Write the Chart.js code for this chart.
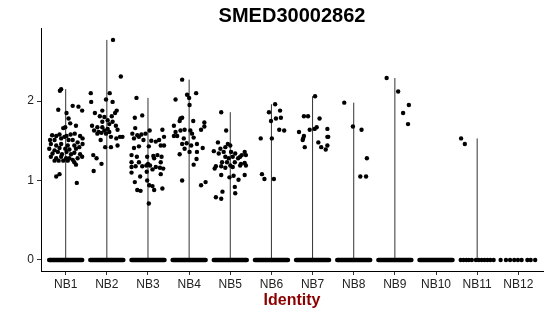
<!DOCTYPE html>
<html><head><meta charset="utf-8">
<script src="https://cdn.jsdelivr.net/npm/chart.js@4.4.0/dist/chart.umd.min.js"></script>
<style>html,body{margin:0;padding:0;background:#fff;}#wrap{width:550px;height:316px;}</style>
</head><body><div id="wrap"><canvas id="c" width="550" height="316"></canvas></div>
<script>
const chartTitle = 'SMED30002862';
const axisTitle = 'Identity';
const categories = ['NB1','NB2','NB3','NB4','NB5','NB6','NB7','NB8','NB9','NB10','NB11','NB12'];
const yTicks = [0, 1, 2];

// non-zero expression values per identity, with their horizontal jitter
const nb1Values = [2.13,2.15,1.89,1.94,1.93,1.88,1.85,1.78,1.72,1.69,1.67,1.66,1.57,1.56,1.58,1.56,1.58,1.59,1.56,1.53,1.51,1.51,1.53,1.55,1.51,1.51,1.48,1.46,1.44,1.46,1.44,1.44,1.42,1.46,1.40,1.38,1.41,1.40,1.39,1.40,1.34,1.36,1.33,1.36,1.33,1.35,1.33,1.30,1.28,1.30,1.28,1.28,1.26,1.28,1.30,1.25,1.25,1.25,1.25,1.23,1.20,1.05,1.08,0.97];
const nb1Jitter = [-0.14,-0.11,-0.18,0.17,0.31,0.40,0.02,0.07,0.11,0.25,-0.01,-0.06,-0.33,-0.23,-0.15,0.02,0.12,0.22,0.35,0.41,-0.38,-0.27,-0.11,-0.03,0.07,0.17,0.29,-0.36,-0.23,-0.11,0.05,0.21,0.33,0.41,-0.40,-0.27,-0.15,-0.01,0.09,0.25,-0.32,-0.19,-0.09,0.02,0.13,0.21,0.35,-0.36,-0.23,-0.11,0.01,0.09,0.17,0.29,0.40,-0.27,-0.17,-0.06,0.05,0.21,0.25,-0.23,-0.15,0.27];
const nb2Values = [2.77,2.31,2.10,2.10,1.99,2.02,1.99,1.88,1.85,1.88,1.85,1.81,1.80,1.81,1.76,1.74,1.74,1.69,1.67,1.67,1.71,1.69,1.63,1.61,1.63,1.65,1.64,1.59,1.60,1.59,1.61,1.55,1.55,1.55,1.51,1.53,1.42,1.42,1.44,1.32,1.28,1.21,1.12];
const nb2Jitter = [0.15,0.34,-0.39,0.07,-0.38,-0.02,0.14,0.24,0.20,-0.11,-0.29,-0.17,-0.06,0.12,0.02,-0.11,0.14,-0.36,-0.23,-0.11,0.06,0.22,-0.31,-0.20,-0.06,0.02,0.26,-0.23,-0.13,-0.02,0.06,0.38,0.32,0.10,-0.15,0.23,-0.04,0.10,0.26,-0.33,-0.25,-0.13,-0.32];
const nb3Values = [2.04,1.82,1.79,1.66,1.59,1.57,1.58,1.59,1.63,1.64,1.53,1.55,1.51,1.50,1.49,1.51,1.55,1.41,1.43,1.43,1.44,1.44,1.32,1.30,1.30,1.31,1.32,1.30,1.23,1.23,1.21,1.28,1.23,1.17,1.18,1.18,1.19,1.19,1.17,1.16,1.15,1.10,1.05,1.11,1.14,1.08,0.98,1.00,0.94,0.93,0.88,0.87,0.88,0.90,0.71];
const nb3Jitter = [-0.28,-0.14,-0.32,-0.31,-0.38,-0.26,-0.16,-0.06,0.04,0.35,-0.34,-0.22,-0.11,0.08,0.19,0.27,0.39,-0.34,-0.22,0.02,0.31,0.39,-0.40,-0.27,-0.02,0.13,0.23,0.33,-0.40,-0.22,0.00,0.15,0.31,-0.40,-0.30,-0.14,-0.04,0.05,0.19,0.29,0.37,-0.40,-0.19,-0.03,0.11,0.31,-0.32,-0.02,0.03,0.11,-0.26,-0.18,0.15,0.35,0.02];
const nb4Values = [2.27,2.08,2.04,2.10,2.02,1.95,1.78,1.75,1.79,1.75,1.73,1.69,1.64,1.63,1.68,1.64,1.61,1.63,1.59,1.56,1.56,1.53,1.54,1.46,1.47,1.44,1.46,1.40,1.41,1.33,1.36,1.36,1.27,1.20,1.00,0.94,0.98];
const nb4Jitter = [-0.17,-0.05,0.00,0.17,-0.33,0.01,-0.21,-0.23,-0.17,0.10,0.37,-0.37,-0.11,0.03,0.37,0.29,-0.33,-0.21,0.07,-0.37,-0.29,-0.13,0.11,-0.17,-0.06,0.05,0.19,-0.11,0.33,-0.23,0.01,0.19,0.18,0.11,-0.17,0.29,0.40];
const nb5Values = [1.86,1.63,1.48,1.46,1.44,1.37,1.40,1.36,1.42,1.34,1.36,1.34,1.36,1.32,1.32,1.30,1.28,1.30,1.28,1.30,1.23,1.23,1.23,1.21,1.22,1.15,1.18,1.18,1.16,1.19,1.17,1.19,1.19,1.07,1.04,1.06,1.01,1.07,0.92,0.84,0.86,0.79,0.77];
const nb5Jitter = [-0.22,-0.10,-0.30,-0.06,0.00,-0.40,-0.24,-0.16,-0.12,-0.28,0.02,0.12,0.35,0.28,0.38,-0.12,-0.04,0.06,0.19,0.24,-0.20,-0.08,0.11,0.26,0.35,-0.38,-0.35,-0.22,-0.12,0.00,0.06,0.24,0.38,-0.22,-0.02,0.08,0.20,0.35,0.11,0.12,-0.19,-0.35,-0.22];
const nb6Values = [1.96,1.86,1.88,1.75,1.78,1.79,1.64,1.63,1.53,1.53,1.08,1.02,1.02];
const nb6Jitter = [0.09,-0.06,0.21,-0.01,0.11,0.23,0.19,0.31,-0.26,0.01,-0.23,-0.17,0.06];
const nb7Values = [2.06,1.81,1.81,1.78,1.61,1.64,1.65,1.67,1.65,1.56,1.53,1.51,1.55,1.55,1.48,1.42,1.42,1.44,1.39];
const nb7Jitter = [0.06,-0.21,-0.11,0.17,-0.33,-0.07,0.05,0.10,0.36,-0.21,-0.23,-0.24,0.36,0.38,0.14,-0.19,0.21,0.36,0.32];
const nb8Values = [1.98,1.68,1.64,1.28,1.05,1.05];
const nb8Jitter = [-0.23,-0.02,0.19,0.32,0.16,0.30];
const nb9Values = [2.29,2.12,1.95,1.85,1.71];
const nb9Jitter = [-0.20,0.08,0.34,0.20,0.32];
const nb10Values = [];
const nb10Jitter = [];
const nb11Values = [1.53,1.46];
const nb11Jitter = [-0.39,-0.30];
const nb12Values = [];
const nb12Jitter = [];

// cells with zero expression: dense groups drawn as a band, sparse groups as individual jittered dots
const denseZeroGroups = ['NB1','NB2','NB3','NB4','NB5','NB6','NB7','NB8','NB9','NB10'];
const nb11ZeroJitter = [-0.40,-0.33,-0.26,-0.20,-0.13,-0.03,0.04,0.11,0.18,0.25,0.32,0.40];
const nb12ZeroJitter = [-0.43,-0.30,-0.20,-0.10,-0.01,0.08,0.22,0.30,0.41];

const groupValues = [nb1Values,nb2Values,nb3Values,nb4Values,nb5Values,nb6Values,nb7Values,nb8Values,nb9Values,nb10Values,nb11Values,nb12Values];
const groupJitter = [nb1Jitter,nb2Jitter,nb3Jitter,nb4Jitter,nb5Jitter,nb6Jitter,nb7Jitter,nb8Jitter,nb9Jitter,nb10Jitter,nb11Jitter,nb12Jitter];
const sparseZero = {NB11: nb11ZeroJitter, NB12: nb12ZeroJitter};

const datasets = [];
const pts = [];
groupValues.forEach((vals, gi) => {
  vals.forEach((v, k) => pts.push({x: gi + 1 + groupJitter[gi][k], y: v}));
});
const zeroPts = [];
Object.keys(sparseZero).forEach(name => {
  const gi = categories.indexOf(name);
  sparseZero[name].forEach(j => zeroPts.push({x: gi + 1 + j, y: 0}));
});
datasets.push({type:'scatter', data: pts, backgroundColor:'#000', borderWidth:0, pointRadius:2.2, pointHoverRadius:2.2});
datasets.push({type:'scatter', data: zeroPts, backgroundColor:'#000', borderWidth:0, pointRadius:2.2, pointHoverRadius:2.2});
denseZeroGroups.forEach(name => {
  const gi = categories.indexOf(name);
  datasets.push({type:'scatter', showLine:true, data:[{x:gi+1-0.4,y:0},{x:gi+1+0.4,y:0}], borderColor:'#000', borderWidth:4.6, borderCapStyle:'round', pointRadius:0});
});
groupValues.forEach((vals, gi) => {
  if (!vals.length) return;
  datasets.push({type:'scatter', showLine:true, data:[{x:gi+1,y:0},{x:gi+1,y:Math.max(...vals)}], borderColor:'#333', borderWidth:1, pointRadius:0});
});

const titlePlugin = {
  id:'ggTitle',
  afterDraw(chart){
    const {ctx, chartArea} = chart;
    ctx.save();
    ctx.font = 'bold 20px "Liberation Sans", Arial, sans-serif';
    ctx.fillStyle = '#000';
    ctx.textAlign = 'center';
    ctx.textBaseline = 'middle';
    ctx.fillText(chartTitle, (chartArea.left + chartArea.right) / 2, 16);
    ctx.restore();
  }
};

new Chart(document.getElementById('c'), {
  type:'scatter',
  data:{datasets},
  plugins:[titlePlugin],
  options:{
    responsive:false, animation:false, events:[],
    layout:{padding:{top:28, right:7, left:0, bottom:0}},
    plugins:{legend:{display:false}, tooltip:{enabled:false}},
    scales:{
      x:{
        type:'linear', min:0.4, max:12.6,
        afterBuildTicks(s){ s.ticks = categories.map((c,i)=>({value:i+1})); },
        afterFit(s){ s.height = 45; },
        ticks:{callback:(v)=>categories[v-1], color:'#222', font:{family:'"Liberation Sans", Arial, sans-serif', size:12}, padding:2, maxRotation:0, autoSkip:false},
        grid:{display:true, drawOnChartArea:false, drawTicks:true, tickLength:4, color:'#333'},
        border:{display:true, color:'#000', width:1},
        title:{display:true, text:axisTitle, color:'#8b0000', font:{family:'"Liberation Sans", Arial, sans-serif', size:16, weight:'bold'}, padding:{top:0, bottom:6}}
      },
      y:{
        type:'linear', min:-0.139, max:2.92,
        afterBuildTicks(s){ s.ticks = yTicks.map(v=>({value:v})); },
        afterFit(s){ s.width = 41; },
        ticks:{color:'#222', font:{family:'"Liberation Sans", Arial, sans-serif', size:12}, padding:3},
        grid:{display:true, drawOnChartArea:false, drawTicks:true, tickLength:4, color:'#333'},
        border:{display:true, color:'#000', width:1}
      }
    }
  }
});
</script></body></html>
